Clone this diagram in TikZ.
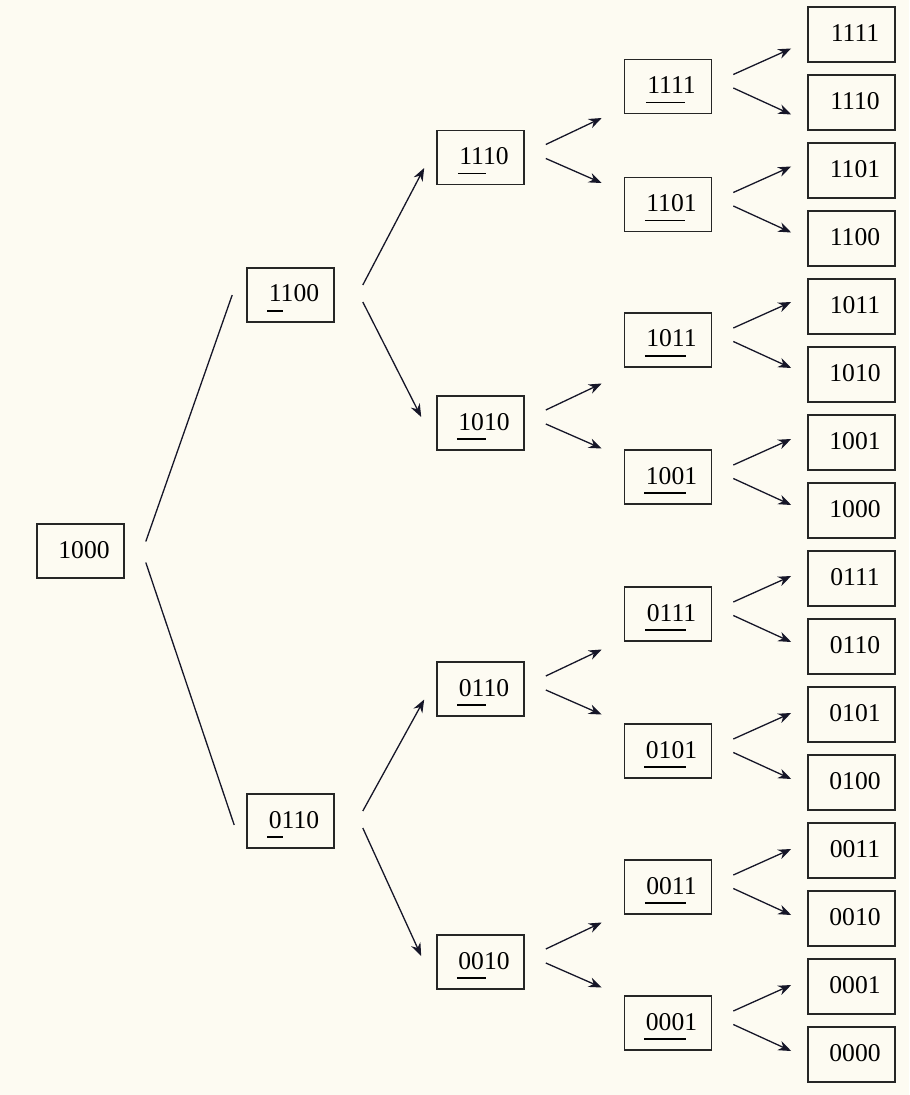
\documentclass[tikz,border=0pt]{standalone}
\usepackage{fontspec}
\setmainfont{Liberation Serif}
\usepackage{tikz}
\usetikzlibrary{arrows.meta,positioning,calc}
\definecolor{paper}{RGB}{253,251,242}
\definecolor{ink}{RGB}{22,22,40}
\newlength{\digwd}
\newcommand{\undr}[2]{\settowidth{\digwd}{#1}\rlap{\kern-.75pt\vrule width \dimexpr\digwd+1.5pt\relax height -4.2pt depth 4.9pt}#1#2}

\begin{document}
\begin{tikzpicture}[x=.5pt, y=-.5pt, >={Stealth[length=6.5pt,width=5pt]}, line width=.65pt, node distance=5.7pt,
    box/.style={draw=black!85, line width=.8pt, minimum width=43.5pt, minimum height=27pt, inner sep=0pt,
      text height=8.5pt, text depth=1.5pt, font=\fontsize{12.8}{15}\selectfont, execute at begin node={\hspace*{3.5pt}}},
    leaf/.style={box, minimum height=27.5pt},
    link/.style={->, draw=ink}]
  \fill[paper] (0,0) rectangle (909,1095);

  % root and first split
  \node[box] (root) at (80.5,551) {1000};
  \node[box] (one1100) at (290.5,295) {\undr{1}{100}};
  \node[box] (one0110) at (290.5,821) {\undr{0}{110}};

  % second split
  \node[box] (two1110) at (480.5,157.5) {\undr{11}{10}};
  \node[box] (two1010) at (480.5,423) {\undr{10}{10}};
  \node[box] (two0110) at (480.5,689) {\undr{01}{10}};
  \node[box] (two0010) at (480.5,962) {\undr{00}{10}};

  % third split
  \node[box] (three1111) at (668,86.5) {\undr{111}{1}};
  \node[box] (three1101) at (668,204.5) {\undr{110}{1}};
  \node[box] (three1011) at (668,340) {\undr{101}{1}};
  \node[box] (three1001) at (668,477) {\undr{100}{1}};
  \node[box] (three0111) at (668,614) {\undr{011}{1}};
  \node[box] (three0101) at (668,751) {\undr{010}{1}};
  \node[box] (three0011) at (668,887) {\undr{001}{1}};
  \node[box] (three0001) at (668,1023) {\undr{000}{1}};

  % leaves
  \node[leaf] (leaf1111) at (851.5,34.5) {1111};
  \node[leaf, below=of leaf1111] (leaf1110) {1110};
  \node[leaf, below=of leaf1110] (leaf1101) {1101};
  \node[leaf, below=of leaf1101] (leaf1100) {1100};
  \node[leaf, below=of leaf1100] (leaf1011) {1011};
  \node[leaf, below=of leaf1011] (leaf1010) {1010};
  \node[leaf, below=of leaf1010] (leaf1001) {1001};
  \node[leaf, below=of leaf1001] (leaf1000) {1000};
  \node[leaf, below=of leaf1000] (leaf0111) {0111};
  \node[leaf, below=of leaf0111] (leaf0110) {0110};
  \node[leaf, below=of leaf0110] (leaf0101) {0101};
  \node[leaf, below=of leaf0101] (leaf0100) {0100};
  \node[leaf, below=of leaf0100] (leaf0011) {0011};
  \node[leaf, below=of leaf0011] (leaf0010) {0010};
  \node[leaf, below=of leaf0010] (leaf0001) {0001};
  \node[leaf, below=of leaf0001] (leaf0000) {0000};

  % root edges, no heads
  \draw[ink] ($(root.east)+(21,-9.5)$) -- ($(one1100.west)+(-14,0)$);
  \draw[ink] ($(root.east)+(21,11.5)$) -- ($(one0110.west)+(-12,4)$);

  \draw[link] ($(one1100.east)+(28,-10)$) -- ($(two1110.west)+(-12,10.5)$);
  \draw[link] ($(one1100.east)+(28,7)$) -- ($(two1010.west)+(-15,-6)$);
  \draw[link] ($(one0110.east)+(28,-10)$) -- ($(two0110.west)+(-12,10.5)$);
  \draw[link] ($(one0110.east)+(28,7)$) -- ($(two0010.west)+(-15,-6)$);

  \draw[link] ($(two1110.east)+(21,-13)$) -- ($(three1111.west |- two1110.east)+(-22,-39.5)$);
  \draw[link] ($(two1110.east)+(21,1)$) -- ($(three1101.west |- two1110.east)+(-22,25.5)$);
  \draw[link] ($(two1010.east)+(21,-13)$) -- ($(three1011.west |- two1010.east)+(-22,-39.5)$);
  \draw[link] ($(two1010.east)+(21,1)$) -- ($(three1001.west |- two1010.east)+(-22,25.5)$);
  \draw[link] ($(two0110.east)+(21,-13)$) -- ($(three0111.west |- two0110.east)+(-22,-39.5)$);
  \draw[link] ($(two0110.east)+(21,1)$) -- ($(three0101.west |- two0110.east)+(-22,25.5)$);
  \draw[link] ($(two0010.east)+(21,-13)$) -- ($(three0011.west |- two0010.east)+(-22,-39.5)$);
  \draw[link] ($(two0010.east)+(21,1)$) -- ($(three0001.west |- two0010.east)+(-22,25.5)$);

  \draw[link] ($(three1111.east)+(21,-12)$) -- ($(leaf1111.west |- three1111.east)+(-16,-38)$);
  \draw[link] ($(three1111.east)+(21,1.5)$) -- ($(leaf1110.west |- three1111.east)+(-16,28)$);
  \draw[link] ($(three1101.east)+(21,-12)$) -- ($(leaf1101.west |- three1101.east)+(-16,-38)$);
  \draw[link] ($(three1101.east)+(21,1.5)$) -- ($(leaf1100.west |- three1101.east)+(-16,28)$);
  \draw[link] ($(three1011.east)+(21,-12)$) -- ($(leaf1011.west |- three1011.east)+(-16,-38)$);
  \draw[link] ($(three1011.east)+(21,1.5)$) -- ($(leaf1010.west |- three1011.east)+(-16,28)$);
  \draw[link] ($(three1001.east)+(21,-12)$) -- ($(leaf1001.west |- three1001.east)+(-16,-38)$);
  \draw[link] ($(three1001.east)+(21,1.5)$) -- ($(leaf1000.west |- three1001.east)+(-16,28)$);
  \draw[link] ($(three0111.east)+(21,-12)$) -- ($(leaf0111.west |- three0111.east)+(-16,-38)$);
  \draw[link] ($(three0111.east)+(21,1.5)$) -- ($(leaf0110.west |- three0111.east)+(-16,28)$);
  \draw[link] ($(three0101.east)+(21,-12)$) -- ($(leaf0101.west |- three0101.east)+(-16,-38)$);
  \draw[link] ($(three0101.east)+(21,1.5)$) -- ($(leaf0100.west |- three0101.east)+(-16,28)$);
  \draw[link] ($(three0011.east)+(21,-12)$) -- ($(leaf0011.west |- three0011.east)+(-16,-38)$);
  \draw[link] ($(three0011.east)+(21,1.5)$) -- ($(leaf0010.west |- three0011.east)+(-16,28)$);
  \draw[link] ($(three0001.east)+(21,-12)$) -- ($(leaf0001.west |- three0001.east)+(-16,-38)$);
  \draw[link] ($(three0001.east)+(21,1.5)$) -- ($(leaf0000.west |- three0001.east)+(-16,28)$);
\end{tikzpicture}
\end{document}
